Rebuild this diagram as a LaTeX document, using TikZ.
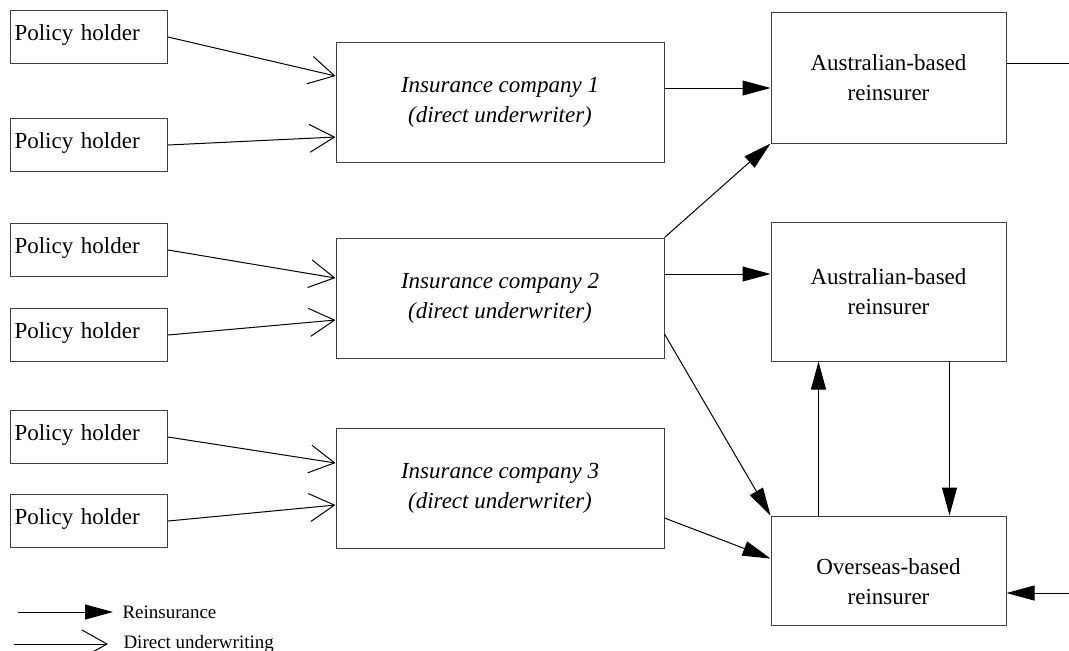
\documentclass[tikz,border=0pt]{standalone}
\usepackage{fontspec}
\setmainfont{Liberation Serif}
\usetikzlibrary{arrows.meta}

\begin{document}
\begin{tikzpicture}[x=0.5pt,y=-0.5pt,line width=0.5pt,
 holder/.style={draw=black!75,anchor=north west,align=left,text width=74.5pt,inner xsep=2pt,
  inner ysep=0pt,minimum width=78.5pt,text height=14.75pt,text depth=11.75pt,
  font=\fontsize{11.5}{15}\selectfont},
 insurer/.style={draw=black!75,minimum width=164pt,minimum height=60pt,align=center,
  font=\itshape\fontsize{11.5}{15}\selectfont},
 reins/.style={draw=black!75,minimum width=117.5pt,align=center,font=\fontsize{11.5}{15}\selectfont},
 du/.style={-{Straight Barb[length=12.5pt,width=14pt]}},
 re/.style={-{Triangle[length=14pt,width=7.5pt]}},
 key/.style={anchor=west,inner xsep=4.5pt,font=\fontsize{9.5}{11}\selectfont}]
\useasboundingbox (0,0) rectangle (1069,650);
% policy holders
\foreach \i/\y in {1/10,2/118,3/223,4/308,5/410,6/494}
  \node[holder] (ph\i) at (10,\y) {Policy holder};
% direct underwriters
\node[insurer] (ic1) at (500,102) {Insurance company 1\\(direct underwriter)};
\node[insurer] (ic2) at (500,298) {Insurance company 2\\(direct underwriter)};
\node[insurer] (ic3) at (500,488) {Insurance company 3\\(direct underwriter)};
% reinsurers
\node[reins,minimum height=65.5pt] (ar1) at (888.5,77.5) {Australian-based\\reinsurer};
\node[reins,minimum height=69.5pt] (ar2) at (888.5,291.5) {Australian-based\\reinsurer};
\node[reins,minimum height=54.5pt] (os) at (888.5,570.5) {\rule{0pt}{19pt}Overseas-based\\reinsurer};
% direct underwriting
\draw[du] (ph1.east) -- ([yshift=13pt]ic1.west);
\draw[du] (ph2.east) -- ([yshift=-17.5pt]ic1.west);
\draw[du] (ph3.east) -- ([yshift=10pt]ic2.west);
\draw[du] (ph4.east) -- ([yshift=-11pt]ic2.west);
\draw[du] (ph5.east) -- ([yshift=12.5pt]ic3.west);
\draw[du] (ph6.east) -- ([yshift=-8.5pt]ic3.west);
% reinsurance
\draw[re] ([yshift=7pt]ic1.east) -- ([yshift=7pt]ic1.east -| ar1.west);
\draw[re] (ic2.north east) -- (ar1.south west);
\draw[re] ([yshift=12pt]ic2.east) -- ([yshift=12pt]ic2.east -| ar2.west);
\draw[re] ([yshift=-18pt]ic2.east) -- (os.north west);
\draw[re] ([yshift=-15pt]ic3.east) -- ([yshift=6pt]os.west);
\draw[re] ([xshift=24pt]os.north west) -- ([xshift=24pt]os.north west |- ar2.south);
\draw[re] ([xshift=-28.5pt]os.north east |- ar2.south) -- ([xshift=-28.5pt]os.north east);
\coordinate (toout) at (1069,63);
\draw (ar1.east |- toout) -- (toout);
\coordinate (fromout) at (1069,593);
\draw[re] (fromout) -- (fromout -| os.east);
% legend
\node[key] (krein) at (113,612) {Reinsurance};
\node[key,inner xsep=7.5pt] (kdirect) at (108,644) {Direct underwriting};
\draw[re] ([xshift=-47.5pt]krein.west) -- (krein.west);
\draw[du] ([xshift=-47pt]kdirect.west) -- (kdirect.west);
\end{tikzpicture}
\end{document}
